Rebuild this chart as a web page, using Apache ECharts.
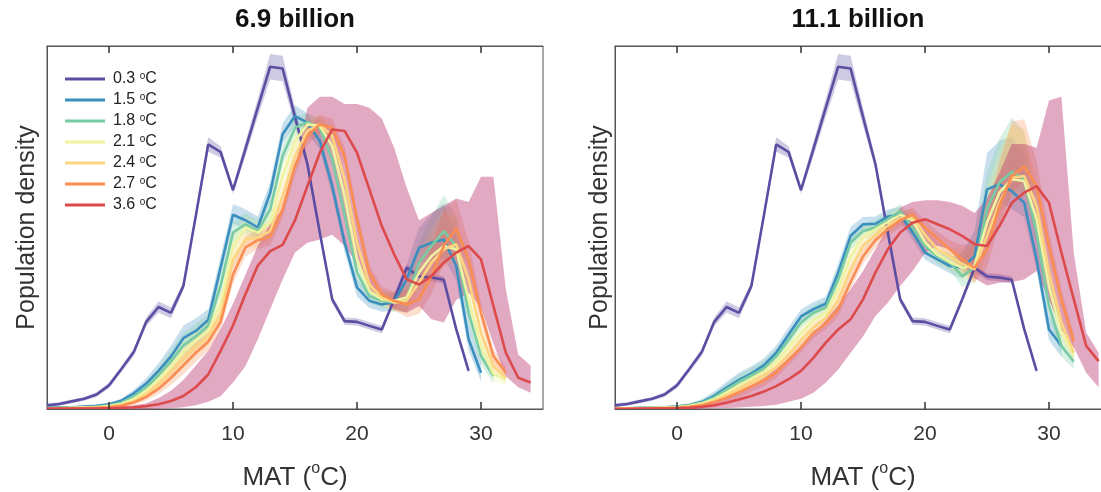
<!DOCTYPE html>
<html>
<head>
<meta charset="utf-8">
<script src="https://cdn.jsdelivr.net/npm/echarts@6/dist/echarts.min.js"></script>
<style>
  html, body { margin: 0; padding: 0; background: #fff; }
  #chart { width: 1101px; height: 492px; }
</style>
</head>
<body>
<div id="chart"></div>
<script>
// MAT bins (oC)
const mat = [-5, -4, -3, -2, -1, 0, 1, 2, 3, 4, 5, 6, 7, 8, 9, 10, 11, 12, 13, 14,
  15, 16, 17, 18, 19, 20, 21, 22, 23, 24, 25, 26, 27, 28, 29, 30, 31, 32, 33, 34];
const xTicks = [0, 10, 20, 30];
const names = ['0.3 °C', '1.5 °C', '1.8 °C', '2.1 °C', '2.4 °C', '2.7 °C', '3.6 °C'];
const colors = ['#5b4ea2', '#3a8fbf', '#78cba2', '#eef4a2', '#fdd47f', '#f98d52', '#dc4a4c'];
const panelTitles = ['6.9 billion', '11.1 billion'];

// 0.3 oC (same in both panels)
const hist03 = [1.0, 1.4, 2.1, 2.8, 4.0, 6.5, 11.0, 15.7, 24.0, 28.1, 26.5, 33.9, 53.2, 72.9, 70.8,
  60.3, 71.6, 83.0, 94.3, 93.8, 80.5, 67.5, 48.6, 30.2, 24.2, 24.0, 22.9, 21.9, 30.2, 38.9,
  36.5, 36.2, 35.6, 22.0, 10.5, null, null, null, null, null];
const hist03Spread = [0.5, 0.5, 0.5, 0.5, 0.6, 0.7, 0.8, 1.0, 1.2, 1.5, 1.5, 1.2, 1.2, 2.0, 1.5,
  1.0, 2.0, 2.5, 3.5, 3.5, 2.5, 1.5, 1.2, 1.0, 1.0, 1.0, 1.0, 1.0, 1.0, 1.0,
  1.0, 1.0, 1.0, 1.0, 0.8, 0, 0, 0, 0, 0];

// 6.9 billion
const l15 = [0.3, 0.4, 0.5, 0.7, 0.9, 1.3, 2.3, 4.3, 7.0, 10.5, 14.5, 19.5, 21.5, 24.5, 39.0,
  53.5, 52.0, 50.0, 59.6, 75.7, 80.7, 78.9, 73.8, 61.4, 45.8, 33.5, 29.8, 28.8, 29.5, 35.7,
  44.4, 45.8, 46.7, 39.4, 19.2, 10.0, null, null, null, null];
const l18 = [0.2, 0.3, 0.4, 0.5, 0.7, 1.0, 1.8, 3.5, 6.0, 9.3, 13.2, 17.5, 20.0, 23.0, 34.0,
  48.6, 50.9, 49.0, 55.0, 69.7, 77.5, 79.0, 77.5, 68.8, 53.6, 37.6, 31.1, 29.8, 29.3, 30.2,
  40.3, 44.9, 49.0, 44.9, 26.5, 14.6, 9.1, null, null, null];
const l21 = [0.1, 0.2, 0.3, 0.4, 0.5, 0.8, 1.4, 2.8, 5.0, 8.0, 11.6, 15.6, 18.8, 21.5, 29.0,
  44.9, 50.0, 48.6, 51.3, 64.2, 73.8, 78.4, 78.0, 72.5, 58.7, 41.2, 32.5, 30.2, 29.8, 30.7,
  37.6, 42.1, 44.9, 44.0, 30.2, 17.4, 9.6, 8.2, null, null];
const l24 = [0.1, 0.1, 0.2, 0.3, 0.4, 0.6, 1.1, 2.2, 4.1, 6.8, 10.2, 13.8, 17.2, 20.0, 26.0,
  41.2, 46.7, 47.2, 49.0, 58.7, 69.7, 76.6, 78.4, 75.2, 63.3, 45.8, 34.3, 30.7, 29.3, 29.8,
  34.8, 40.3, 44.0, 45.4, 35.7, 21.0, 11.8, 8.6, null, null];
const l27 = [0.1, 0.1, 0.1, 0.2, 0.3, 0.5, 0.9, 1.8, 3.3, 5.6, 8.6, 12.0, 15.5, 18.5, 24.0,
  37.0, 44.5, 46.5, 47.5, 55.0, 66.9, 75.2, 78.4, 77.5, 69.7, 52.3, 37.6, 31.6, 29.8, 28.8,
  30.2, 36.6, 45.0, 49.7, 41.2, 26.5, 14.6, 10.0, null, null];
const l36 = [0.1, 0.1, 0.1, 0.1, 0.1, 0.2, 0.3, 0.5, 0.8, 1.3, 2.2, 3.6, 6.0, 9.5, 16.0,
  23.0, 31.6, 39.5, 43.5, 45.2, 52.0, 61.4, 70.6, 77.0, 76.6, 70.6, 60.5, 50.4, 42.6, 35.7,
  34.3, 36.6, 40.3, 43.1, 44.9, 41.2, 28.4, 15.5, 8.6, 7.3];
const l36Hi = [0.2, 0.2, 0.2, 0.3, 0.3, 0.4, 0.6, 1.0, 1.6, 3.0, 5.0, 8.0, 12.0, 16.0, 22.0,
  29.0, 37.0, 45.0, 51.0, 55.0, 66.0, 83.0, 86.0, 86.0, 84.0, 84.0, 83.0, 80.0, 72.0, 61.0,
  52.0, 54.0, 56.0, 58.0, 57.0, 64.0, 64.0, 33.0, 15.0, 12.0];
const l36Lo = [0, 0, 0, 0, 0, 0, 0, 0, 0, 0.1, 0.2, 0.5, 1.0, 2.0, 3.5,
  7.3, 11.8, 19.2, 27.5, 35.7, 43.1, 45.8, 46.7, 48.0, 45.0, 40.0, 33.0, 30.0, 27.5, 26.5,
  28.4, 24.7, 23.8, 30.0, 32.0, 28.0, 18.0, 9.0, 6.0, 4.5];
const upL = [0.1, 0.1, 0.1, 0.2, 0.3, 0.4, 0.6, 1.0, 1.5, 2.2, 3.0, 3.5, 3.5, 3.0, 3.0,
  3.0, 3.0, 3.0, 3.0, 3.0, 3.0, 2.5, 2.5, 2.5, 2.5, 2.5, 2.0, 2.0, 2.5, 4.0,
  5.5, 8.0, 10.0, 8.0, 5.0, 3.0, 2.0, 1.5, 1.0, 1.0];
const dnL = [0.1, 0.1, 0.1, 0.1, 0.2, 0.3, 0.4, 0.6, 1.0, 1.5, 2.0, 2.5, 2.5, 2.5, 2.5,
  2.5, 2.5, 2.5, 2.5, 2.5, 2.5, 2.5, 2.5, 2.5, 2.5, 2.5, 2.0, 2.0, 2.5, 3.5,
  4.0, 5.0, 5.0, 4.0, 3.0, 2.5, 2.0, 1.5, 1.0, 1.0];

// 11.1 billion
const r15 = [0.2, 0.2, 0.3, 0.4, 0.5, 0.7, 1.1, 1.9, 3.6, 5.9, 8.0, 9.8, 12.0, 15.5, 20.5,
  25.5, 27.5, 29.0, 37.6, 47.7, 50.9, 51.0, 53.0, 53.6, 48.6, 43.1, 41.2, 39.4, 38.9, 42.1,
  60.5, 61.9, 60.0, 56.8, 41.2, 21.9, 17.4, null, null, null];
const r18 = [0.1, 0.2, 0.2, 0.3, 0.4, 0.6, 1.0, 1.7, 3.2, 5.4, 7.5, 9.3, 11.2, 14.5, 19.0,
  23.8, 26.5, 28.0, 35.7, 45.8, 49.0, 50.0, 52.3, 54.5, 50.0, 44.9, 42.1, 40.3, 36.6, 39.0,
  55.0, 62.4, 65.3, 63.3, 48.6, 28.4, 17.4, 13.0, null, null];
const r21 = [0.1, 0.1, 0.2, 0.3, 0.4, 0.5, 0.9, 1.5, 2.7, 4.5, 6.5, 8.3, 10.2, 13.0, 17.0,
  21.0, 24.5, 26.5, 33.0, 42.0, 47.5, 49.5, 51.5, 53.5, 52.0, 46.0, 42.5, 40.5, 38.9, 39.4,
  51.3, 59.6, 63.3, 62.8, 52.3, 33.9, 21.0, 15.0, null, null];
const r24 = [0.1, 0.1, 0.1, 0.2, 0.3, 0.4, 0.7, 1.2, 2.3, 3.8, 5.5, 7.3, 9.0, 11.5, 15.0,
  19.0, 22.5, 25.0, 30.0, 38.5, 45.0, 48.0, 50.5, 52.5, 53.0, 48.0, 44.0, 42.0, 40.0, 38.5,
  47.7, 56.8, 63.7, 64.2, 55.9, 37.6, 23.8, 15.5, null, null];
const r27 = [0.1, 0.1, 0.1, 0.2, 0.2, 0.3, 0.6, 1.0, 1.9, 3.1, 4.6, 6.3, 7.8, 10.0, 13.5,
  17.0, 21.0, 23.5, 27.5, 35.0, 42.0, 46.5, 49.5, 52.0, 53.5, 50.0, 47.0, 44.0, 41.2, 38.9,
  44.0, 55.9, 64.2, 66.8, 61.4, 44.9, 30.2, 18.7, null, null];
const r36 = [0, 0, 0.1, 0.1, 0.1, 0.2, 0.3, 0.6, 1.0, 1.7, 2.6, 3.6, 4.8, 6.3, 8.2,
  10.5, 14.1, 18.3, 21.9, 24.7, 30.2, 37.6, 44.0, 48.6, 51.3, 52.3, 50.9, 49.5, 47.7, 45.4,
  44.9, 50.4, 56.8, 59.6, 61.4, 56.8, 43.1, 30.2, 17.4, 13.2];
const r36Hi = [0.1, 0.1, 0.2, 0.2, 0.3, 0.4, 0.7, 1.2, 2.0, 3.0, 4.5, 6.5, 8.5, 11.0, 14.0,
  17.0, 20.5, 24.5, 28.5, 33.0, 38.0, 44.0, 50.0, 55.5, 57.0, 57.5, 57.5, 57.0, 56.0, 54.0,
  58.0, 65.0, 73.0, 73.0, 72.0, 85.0, 86.0, 43.0, 21.0, 15.5];
const r36Lo = [0, 0, 0, 0, 0, 0, 0, 0.1, 0.2, 0.3, 0.4, 0.6, 0.8, 1.2, 2.0,
  2.8, 4.5, 7.3, 10.9, 15.5, 20.0, 25.6, 29.3, 33.9, 38.0, 43.0, 45.0, 44.0, 40.0, 36.0,
  34.0, 34.8, 35.0, 35.7, 38.0, 30.0, 22.0, 17.0, 10.0, 6.0];
const upR = [0.1, 0.1, 0.1, 0.2, 0.3, 0.4, 0.5, 0.8, 1.2, 1.6, 2.0, 2.0, 2.0, 2.0, 2.0,
  2.0, 2.0, 2.0, 2.5, 2.5, 2.0, 2.0, 2.0, 2.0, 2.0, 2.0, 2.0, 2.5, 4.0, 7.0,
  10.0, 12.0, 15.0, 13.0, 7.0, 4.0, 3.0, 2.0, 1.0, 1.0];
const dnR = [0.1, 0.1, 0.1, 0.1, 0.2, 0.3, 0.4, 0.6, 0.9, 1.2, 1.5, 1.5, 1.5, 1.5, 1.5,
  1.5, 1.5, 1.5, 2.0, 2.0, 2.0, 2.0, 2.0, 2.0, 2.0, 2.0, 2.0, 2.0, 3.0, 4.0,
  5.0, 5.0, 5.0, 4.0, 3.0, 3.0, 3.0, 2.0, 1.0, 1.0];

const panels = [
  { lines: [hist03, l15, l18, l21, l24, l27, l36], up: upL, dn: dnL, hi36: l36Hi, lo36: l36Lo },
  { lines: [hist03, r15, r18, r21, r24, r27, r36], up: upR, dn: dnR, hi36: r36Hi, lo36: r36Lo }
];

const font = "'Liberation Sans', Arial, sans-serif";

function pairs(ys) {
  return ys.map((v, i) => [mat[i], v]);
}

function hexAlpha(hex, a) {
  const n = parseInt(hex.slice(1), 16);
  return 'rgba(' + (n >> 16) + ',' + ((n >> 8) & 255) + ',' + (n & 255) + ',' + a + ')';
}

// band as one polygon per run of non-null points, placed with api.coord
function band(p, lo, hi, fill) {
  const rows = mat.map((x, i) => [x, lo[i], hi[i]]);
  return {
    type: 'custom', xAxisIndex: p * 2, yAxisIndex: p, silent: true, z: 2,
    data: [[mat[0], 0]],
    renderItem: function (params, api) {
      const children = [];
      let run = [];
      const flush = () => {
        if (run.length > 1) {
          const top = run.map(r => api.coord([r[0], r[2]]));
          const bot = run.map(r => api.coord([r[0], r[1]])).reverse();
          children.push({ type: 'polygon', shape: { points: top.concat(bot) }, style: { fill: fill } });
        }
        run = [];
      };
      rows.forEach(r => {
        if (r[1] == null || r[2] == null) flush(); else run.push(r);
      });
      flush();
      return { type: 'group', children: children };
    }
  };
}

const series = [];
panels.forEach((pn, p) => {
  pn.lines.forEach((ys, k) => {
    let lo, hi, fill;
    if (k === 0) {
      lo = ys.map((v, i) => (v == null ? null : Math.max(0, v - hist03Spread[i])));
      hi = ys.map((v, i) => (v == null ? null : v + hist03Spread[i]));
      fill = hexAlpha(colors[0], 0.3);
    } else if (k === 6) {
      lo = pn.lo36;
      hi = pn.hi36;
      fill = 'rgba(185,50,110,0.42)';
    } else {
      lo = ys.map((v, i) => (v == null ? null : Math.max(0, v - pn.dn[i])));
      hi = ys.map((v, i) => (v == null ? null : v + pn.up[i]));
      fill = hexAlpha(colors[k], 0.28);
    }
    series.push(band(p, lo, hi, fill));
  });
  pn.lines.forEach((ys, k) => {
    series.push({
      type: 'line', name: names[k], xAxisIndex: p * 2, yAxisIndex: p,
      data: pairs(ys), symbol: 'none', showSymbol: false, silent: true, z: 3,
      lineStyle: { color: colors[k], width: 2.6 }, itemStyle: { color: colors[k] }
    });
  });
});

const grids = [
  { left: 47, top: 46, width: 496, height: 363 },
  { left: 615, top: 46, width: 496, height: 363 }
];
const yNameGap = [7, 2];

const xAxis = [];
const yAxis = [];
grids.forEach((g, p) => {
  xAxis.push({
    gridIndex: p, type: 'value', min: -5, max: 35, position: 'bottom', z: 5,
    axisLine: { show: true, onZero: false, lineStyle: { color: '#555', width: 1 } },
    axisTick: { show: true, inside: true, length: 7, customValues: xTicks, lineStyle: { color: '#333', width: 1.5 } },
    axisLabel: { customValues: xTicks, fontSize: 21, color: '#333', margin: 15, fontFamily: font },
    splitLine: { show: false },
    name: '{a|MAT (}{s|o}{a|C)}', nameLocation: 'middle', nameGap: 52,
    nameTextStyle: {
      fontFamily: font, color: '#333',
      rich: {
        a: { fontSize: 26, fontFamily: font, color: '#333', verticalAlign: 'bottom', lineHeight: 30 },
        s: { fontSize: 16, fontFamily: font, color: '#333', verticalAlign: 'top', lineHeight: 30 }
      }
    }
  });
  xAxis.push({
    gridIndex: p, type: 'value', min: -5, max: 35, position: 'top', z: 5,
    axisLine: { show: true, onZero: false, lineStyle: { color: '#555', width: 1 } },
    axisTick: { show: true, inside: true, length: 7, customValues: xTicks, lineStyle: { color: '#333', width: 1.5 } },
    axisLabel: { show: false, customValues: xTicks }, splitLine: { show: false }
  });
  yAxis.push({
    gridIndex: p, type: 'value', min: 0, max: 100,
    axisLine: { show: true, onZero: false, lineStyle: { color: '#555', width: 1 } },
    axisTick: { show: false }, axisLabel: { show: false }, splitLine: { show: false },
    name: 'Population density', nameLocation: 'middle', nameGap: yNameGap[p],
    nameTextStyle: { fontSize: 25, color: '#333', fontFamily: font }
  });
});

const chart = echarts.init(document.getElementById('chart'), null, { renderer: 'canvas' });
chart.setOption({
  animation: false,
  backgroundColor: '#fff',
  grid: grids.map(g => Object.assign({ show: true, borderColor: '#555', borderWidth: 1, outerBoundsMode: 'none' }, g)),
  xAxis: xAxis,
  yAxis: yAxis,
  graphic: panelTitles.map((t, p) => ({
    type: 'text', x: grids[p].left + (p === 0 ? 248 : 243), y: 20, silent: true,
    style: { text: t, font: 'bold 26px ' + font, fill: '#111', textAlign: 'center', textVerticalAlign: 'middle' }
  })),
  legend: {
    data: names, orient: 'vertical', left: 60, top: 66, itemWidth: 40, itemHeight: 3,
    itemGap: 5, icon: 'rect', selectedMode: false,
    formatter: n => '{a|' + n.replace(' °C', ' ') + '}{s|o}{a|C}',
    textStyle: {
      padding: [0, 0, 0, 3],
      rich: {
        a: { fontSize: 16, fontFamily: font, color: '#222', lineHeight: 16, verticalAlign: 'bottom' },
        s: { fontSize: 10, fontFamily: font, color: '#222', lineHeight: 16, verticalAlign: 'top' }
      }
    }
  },
  series: series
});
</script>
</body>
</html>
